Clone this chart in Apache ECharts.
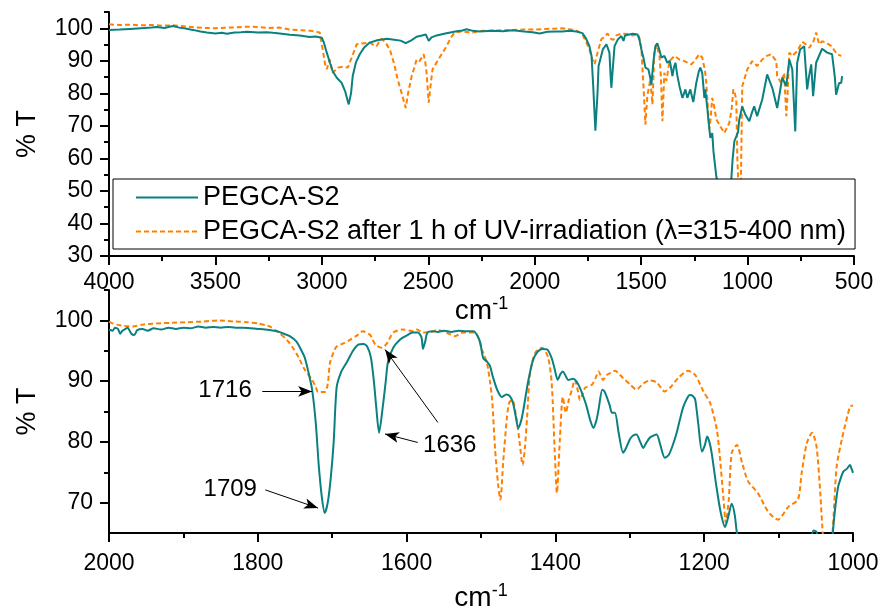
<!DOCTYPE html>
<html>
<head>
<meta charset="utf-8">
<script src="https://cdn.jsdelivr.net/npm/echarts@6/dist/echarts.min.js"></script>
<style>html,body{margin:0;padding:0;background:#fff}#c{width:882px;height:610px}</style>
</head>
<body>
<div id="c"></div>
<script>
// ---------- DATA ----------
const seriesNames = ['PEGCA-S2', 'PEGCA-S2 after 1 h of UV-irradiation (\u03bb=315-400 nm)'];

// Full spectrum (upper panel), [wavenumber cm-1, %T]
const topTeal = [
[4000,99.5],[3950,99.6],[3900,99.8],[3850,100],[3800,100.2],[3775,100.4],[3740,100.1],[3700,100.7],[3670,100.2],[3640,99.9],[3606,99.5],[3570,99.0],[3540,98.7],[3500,98.4],[3470,98.6],[3446,98.3],[3410,98.7],[3380,98.8],[3352,98.9],[3300,98.7],[3260,98.8],[3230,98.6],[3198,98.4],[3150,98.0],[3104,97.8],[3057,97.3],[3030,97.5],[3000,97.1],[2990,95.5],[2977,92.5],[2960,89],[2949,86.8],[2930,84.8],[2907,83.2],[2890,80.5],[2874,76.6],[2863,80],[2855,85.3],[2840,89.5],[2822,92],[2800,94.2],[2775,95.6],[2740,96.3],[2695,96.8],[2660,96.5],[2630,96.2],[2606,95.4],[2580,96.3],[2555,97.4],[2530,97.8],[2512,98.1],[2505,97.5],[2498,96.1],[2485,97.2],[2461,97.8],[2420,98.4],[2367,99.1],[2340,99.3],[2320,99.7],[2290,99.2],[2259,99.0],[2200,99.2],[2150,99.1],[2104,99.4],[2050,99.0],[2010,98.8],[1977,98.4],[1940,98.9],[1900,99.0],[1869,99.0],[1837,99.2],[1804,99.0],[1776,98.5],[1760,97.0],[1743,94.5],[1733,91.5],[1725,82],[1715,68.5],[1705,80],[1700,88.4],[1692,90.4],[1680,93.5],[1663,95.1],[1655,94.5],[1649,92.5],[1644,86],[1640,81.7],[1634,87],[1625,94.5],[1610,96.5],[1593,97.6],[1583,96.1],[1576,97.8],[1569,98.1],[1540,98.3],[1517,98.1],[1508,96.5],[1499,93.5],[1490,91.2],[1480,87.9],[1466,87.4],[1458,85],[1452,82.7],[1442,90],[1433,94.5],[1424,95.4],[1415,93.5],[1405,91],[1398,90.5],[1391,91.5],[1377,89.4],[1365,90],[1358,89.9],[1353,85.3],[1346,88],[1339,89.4],[1330,85.5],[1320,82.2],[1306,78.6],[1292,81.2],[1283,78.6],[1269,81.2],[1255,77.3],[1241,83.2],[1230,86.5],[1222,87.9],[1213,86.3],[1203,78.6],[1199,81.2],[1190,76],[1184,71.9],[1175,66.3],[1166,67.8],[1160,62],[1147,54.5],[1130,48],[1110,45],[1090,46],[1077,53],[1070,60],[1062,65.3],[1053,64.8],[1045,68],[1039,71.9],[1025,76],[1011,73.5],[992,71.4],[980,74],[969,76],[955,73],[931,78.1],[908,85.8],[895,83.5],[884,81.7],[861,75.5],[837,84.8],[818,82.2],[804,90.4],[790,87.4],[776,68.3],[767,89.4],[753,93.5],[734,94.5],[720,81.2],[712,85],[701,88.9],[692,79.1],[678,89.4],[650,93.7],[626,92.5],[603,92],[590,85],[584,79.6],[570,83.2],[560,83.2],[556,85.3]
];
const topOrange = [
[4000,101.2],[3950,101],[3900,101.1],[3850,100.9],[3800,101],[3750,100.8],[3700,100.9],[3650,100.6],[3600,100.3],[3550,100.1],[3500,100],[3450,100.2],[3400,100.3],[3350,100.5],[3300,100.4],[3250,100.1],[3198,100.2],[3150,99.6],[3100,99.4],[3050,99.2],[3010,98.7],[2996,93.5],[2985,89],[2977,87.4],[2970,88],[2963,90.4],[2955,88],[2949,86.3],[2935,87.2],[2925,87.9],[2900,88.2],[2878,87.9],[2860,91],[2836,95.1],[2800,95.4],[2775,95.6],[2760,95],[2742,94.5],[2730,96],[2719,96.8],[2700,95.5],[2681,93.5],[2660,89],[2644,84.3],[2625,80],[2606,75.5],[2595,80],[2578,85.3],[2565,88],[2555,90.4],[2541,89.9],[2522,92],[2515,90],[2508,86.3],[2498,77.1],[2490,82],[2480,87.4],[2447,91],[2414,94.5],[2395,97],[2376,98.7],[2340,99],[2292,98.7],[2250,99.2],[2200,99.3],[2150,99.4],[2104,99.5],[2050,99.6],[2000,99.6],[1950,99.8],[1900,99.9],[1869,100],[1837,99.7],[1800,99.2],[1776,98.1],[1757,95.6],[1743,93.5],[1730,90.5],[1719,88.9],[1712,89.5],[1705,92.5],[1687,96.6],[1670,97.5],[1658,98.4],[1648,97.5],[1640,96.6],[1630,96.5],[1616,97.8],[1593,98.4],[1560,98.2],[1540,97.8],[1522,98.1],[1510,97.5],[1499,94],[1489,82.2],[1480,70.4],[1471,79.1],[1457,84.3],[1447,76.6],[1438,92.5],[1428,95.1],[1414,91.5],[1407,85],[1400,71.4],[1391,86.3],[1381,83.8],[1367,89.9],[1344,91.5],[1320,90.4],[1297,89.9],[1264,88.9],[1250,89.9],[1227,92],[1213,91],[1200,87],[1194,83.2],[1186,75],[1180,69],[1174,72],[1166,78.6],[1157,76],[1147,72],[1125,69.5],[1109,67.8],[1086,70.9],[1075,75],[1067,81.2],[1060,80],[1053,78.1],[1048,59.6],[1040,48],[1032,50],[1025,82.2],[1001,87.4],[978,89.9],[955,88.4],[931,90.4],[910,91.5],[889,92],[865,89.9],[861,85.3],[842,83.2],[828,86.3],[818,73],[812,80],[804,92.5],[790,91.5],[767,93],[743,95.8],[725,95],[710,94],[690,96],[678,98.7],[664,95.1],[650,96],[631,95.6],[607,94.5],[590,93],[579,92],[560,91.5]
];

// Expanded region (lower panel), [wavenumber cm-1, %T]
const bottomTeal = [
[2000,98.5],[1995,98.3],[1992,98.8],[1988,98.6],[1985,97.8],[1982,98.3],[1978,98.6],[1975,98.8],[1970,97.8],[1966,97.6],[1962,98.4],[1955,98.6],[1948,98.3],[1940,98.7],[1930,98.5],[1920,98.8],[1910,98.6],[1900,98.8],[1890,98.7],[1880,99],[1870,98.8],[1860,98.9],[1850,98.8],[1840,98.9],[1830,98.8],[1820,98.8],[1810,98.7],[1800,98.6],[1790,98.5],[1774,98.2],[1765,97.8],[1757,97.4],[1748,96.5],[1742,95.2],[1737,93.9],[1732,91.5],[1727,88.6],[1722,83],[1718,76],[1714,71],[1710,68.3],[1706,70],[1702,74],[1698,80],[1694,89],[1688,91.5],[1680,93.2],[1672,95],[1665,96.0],[1658,96.1],[1653,95.7],[1648,93.9],[1644,90],[1641,86],[1637,81.5],[1632,85.8],[1628,90],[1625,93.2],[1618,95.5],[1609,96.8],[1600,97.5],[1592,98],[1585,98],[1580,97.2],[1578,95.3],[1575,96.5],[1572,98],[1565,98.2],[1558,98.1],[1550,98.3],[1540,98.1],[1530,98.3],[1520,98.2],[1510,98.2],[1505,97.5],[1501,96.3],[1497,93.8],[1492,93.2],[1488,92.5],[1484,90.7],[1478,88.5],[1472,87.4],[1466,87.8],[1461,87.5],[1457,86.4],[1453,84],[1450,82.3],[1446,83.5],[1443,85.3],[1437,89.7],[1430,93.5],[1424,94.8],[1418,95.3],[1411,95.2],[1405,93.8],[1401,92],[1397,90.2],[1393,91.2],[1390,91.6],[1386,90.8],[1383,90.2],[1376,90.4],[1372,90],[1367,88.9],[1362,87.3],[1358,85.8],[1353,83.5],[1349,82.3],[1345,83.5],[1342,85.3],[1337,88.6],[1334,88.3],[1331,87.4],[1327,86],[1324,84.8],[1320,84.8],[1315,81.5],[1309,78.2],[1305,79],[1300,80.4],[1296,81],[1291,81.2],[1286,80],[1282,79],[1278,79.8],[1273,80.7],[1264,81.2],[1259,79.5],[1253,77.4],[1248,77.8],[1243,79.2],[1237,81.5],[1233,83.5],[1228,85.8],[1222,87.4],[1219,87.7],[1215,87.5],[1212,86.9],[1208,83],[1203,78.4],[1199,79.5],[1196,80.9],[1193,80],[1190,78.2],[1184,73],[1178,68.5],[1172,66],[1168,67.5],[1163,69.8],[1159,68],[1156,65],[1150,62],[1130,55],[1100,52],[1070,58],[1058,63],[1053,65.4],[1049,65.2],[1045,62],[1035,55],[1030,60],[1027,65.2],[1024,69],[1020,72.6],[1016,74.2],[1013,75.1],[1008,75.6],[1004,76.2],[1002,75.6],[1000,74.9]
];
const bottomOrange = [
[2000,99.8],[1995,99.5],[1989,99.3],[1980,99.1],[1968,99],[1955,99.3],[1936,99.5],[1915,99.6],[1895,99.7],[1875,99.8],[1851,100],[1830,99.8],[1815,99.7],[1800,99.5],[1790,99.2],[1784,99],[1772,98],[1761,96.8],[1753,95.5],[1746,94.1],[1737,91.9],[1727,90.2],[1722,89],[1719,88.2],[1710,88.2],[1706,89.5],[1703,93],[1698,94.8],[1694,95.7],[1685,96.2],[1676,96.8],[1667,97.5],[1659,98.2],[1649,97.6],[1642,96],[1633,95.5],[1626,96.3],[1618,98],[1605,98.5],[1591,98.2],[1586,98.5],[1578,98],[1569,98],[1559,98.4],[1551,98.2],[1543,97.8],[1535,97.4],[1524,98],[1515,98],[1508,98],[1503,97],[1499,95.2],[1497,94.7],[1492,93.0],[1488,90],[1485,86.9],[1481,78.7],[1477,73],[1474,70.5],[1470,77],[1465,84.2],[1462,86.5],[1458,86.9],[1452,83.6],[1448,79.8],[1444,76.2],[1441,79],[1438,84.2],[1434,91.4],[1427,94.7],[1418,95.5],[1410,94],[1405,89.7],[1401,78.7],[1398,71.6],[1394,80.4],[1390,87.4],[1386,84.8],[1382,86.9],[1378,88.5],[1374,90.2],[1370,88.5],[1367,86.9],[1363,88],[1360,88.9],[1351,89.4],[1346,90.5],[1342,91.6],[1336,90.2],[1331,91],[1325,91.4],[1320,91.7],[1309,90.5],[1300,89.5],[1291,88.6],[1282,89.6],[1273,90.1],[1264,89.8],[1253,88.3],[1246,88.9],[1235,90.5],[1222,91.7],[1212,91],[1201,88.3],[1192,86.4],[1183,82],[1179,77.6],[1174,70.5],[1171,66.7],[1167,70.5],[1163,78.2],[1156,79.5],[1149,76.5],[1141,73.5],[1128,71.6],[1114,68.5],[1101,67.2],[1087,69.3],[1074,70.5],[1069,74.9],[1062,79.8],[1055,81.5],[1049,79.2],[1044,71.6],[1040,64],[1033,58],[1027,66],[1022,75.9],[1015,80.4],[1004,85.8],[1000,86]
];

// Axis ticks
const topXRange = [500, 4000];
const bottomXRange = [1000, 2000];
const topYMajor = [30, 40, 50, 60, 70, 80, 90, 100];
const topYMinor = [35, 45, 55, 65, 75, 85, 95, 105];
const bottomYMajor = [70, 80, 90, 100];
const bottomYMinor = [75, 85, 95, 105];

// Peak annotations (data coordinates in the lower panel)
const peakLabels = ['1716', '1709', '1636'];
const peakLabelAt = [[1844, 88.4], [1837, 72.1], [1542, 79.4]];
const peakArrows = [
  [[1794, 88.3], [1727, 88.3]],
  [[1790, 72.1], [1719, 69.1]],
  [[1585, 79.9], [1629, 81.3]],
  [[1558, 83.2], [1629, 95.2]]
];

// ---------- CHART ----------
const FONT = 'Liberation Sans, Arial, sans-serif';
const TEAL = '#0b8080';
const ORANGE = '#ff8000';
const chart = echarts.init(document.getElementById('c'), null, {renderer: 'canvas'});

function xAxisCfg(grid, range, interval, gap, labelMargin) {
  return {
    type: 'value', gridIndex: grid, inverse: true, min: range[0], max: range[1], interval: interval,
    axisLine: {show: true, onZero: false, lineStyle: {color: '#000', width: 2}},
    axisTick: {show: true, length: 9, lineStyle: {color: '#000', width: 2}},
    minorTick: {show: true, splitNumber: 2, length: 5, lineStyle: {color: '#000', width: 2}},
    axisLabel: {color: '#000', fontFamily: FONT, fontSize: 23, margin: labelMargin, formatter: v => String(v)},
    splitLine: {show: false},
    name: '{a|cm}{b|-1}', nameLocation: 'middle', nameGap: gap,
    nameTextStyle: {rich: {
      a: {fontFamily: FONT, fontSize: 28, color: '#000'},
      b: {fontFamily: FONT, fontSize: 18, color: '#000', verticalAlign: 'top', padding: [0, 0, 14, 0]}
    }}
  };
}
function yMainCfg(grid, min, max, major) {
  return {
    type: 'value', gridIndex: grid, position: 'left', min: min, max: max,
    axisLine: {show: true, onZero: false, lineStyle: {color: '#000', width: 2}},
    axisTick: {show: true, length: 9, customValues: major, lineStyle: {color: '#000', width: 2}},
    axisLabel: {customValues: major, color: '#000', fontFamily: FONT, fontSize: 23, margin: 16},
    splitLine: {show: false},
    name: '% T', nameLocation: 'middle', nameRotate: 90, nameGap: 68,
    nameTextStyle: {fontFamily: FONT, fontSize: 27, color: '#000'}
  };
}
function yMinorCfg(grid, min, max, minor) {
  return {
    type: 'value', gridIndex: grid, position: 'left', offset: 0, min: min, max: max,
    axisLine: {show: false},
    axisTick: {show: true, length: 5, customValues: minor, lineStyle: {color: '#000', width: 2}},
    axisLabel: {show: false},
    splitLine: {show: false}
  };
}

const option = {
  animation: false,
  backgroundColor: '#fff',
  grid: [
    {left: 109, right: 28, top: 12, height: 244, containLabel: false, outerBoundsMode: 'none'},
    {left: 109, right: 29, top: 290, height: 243, containLabel: false, outerBoundsMode: 'none'}
  ],
  xAxis: [xAxisCfg(0, topXRange, 500, 33, 15), xAxisCfg(1, bottomXRange, 200, 49, 19)],
  yAxis: [
    yMainCfg(0, 30, 105, topYMajor), yMinorCfg(0, 30, 105, topYMinor),
    yMainCfg(1, 65, 105, bottomYMajor), yMinorCfg(1, 65, 105, bottomYMinor)
  ],
  legend: {
    left: 113, top: 179, orient: 'vertical',
    data: seriesNames,
    backgroundColor: '#fff', borderColor: '#000', borderWidth: 1, borderRadius: 0,
    padding: [5, 9, 4, 22], itemGap: 7, itemWidth: 62, itemHeight: 14,
    itemStyle: {opacity: 0, borderWidth: 0},
    textStyle: {fontFamily: FONT, fontSize: 27, color: '#000'},
    selectedMode: false, z: 10
  },
  series: [
    {name: seriesNames[0], type: 'line', xAxisIndex: 0, yAxisIndex: 0, data: topTeal, symbol: 'none',
     lineStyle: {color: TEAL, width: 2}, itemStyle: {color: TEAL}, z: 3},
    {name: seriesNames[1], type: 'line', xAxisIndex: 0, yAxisIndex: 0, data: topOrange, symbol: 'none',
     lineStyle: {color: ORANGE, width: 2, type: [5, 3]}, itemStyle: {color: ORANGE}, z: 2},
    {name: seriesNames[0], type: 'line', xAxisIndex: 1, yAxisIndex: 2, data: bottomTeal, symbol: 'none', smooth: 0.25,
     lineStyle: {color: TEAL, width: 2}, itemStyle: {color: TEAL}, z: 3,
     markLine: {
       silent: true, animation: false, symbol: ['none', 'arrow'], symbolSize: [8, 14], precision: 4,
       lineStyle: {color: '#000', width: 1, type: 'solid'}, label: {show: false}, emphasis: {disabled: true},
       data: peakArrows.map(a => [{coord: a[0]}, {coord: a[1]}])
     },
     markPoint: {
       silent: true, animation: false, symbol: 'circle', symbolSize: 0,
       itemStyle: {color: 'rgba(0,0,0,0)'},
       label: {show: true, position: 'inside', formatter: p => p.name, fontFamily: FONT, fontSize: 24, color: '#000'},
       data: peakLabels.map((t, i) => ({name: t, coord: peakLabelAt[i]}))
     }},
    {name: seriesNames[1], type: 'line', xAxisIndex: 1, yAxisIndex: 2, data: bottomOrange, symbol: 'none', smooth: 0.25,
     lineStyle: {color: ORANGE, width: 2, type: [5, 3]}, itemStyle: {color: ORANGE}, z: 2}
  ]
};
chart.setOption(option);
</script>
</body>
</html>
